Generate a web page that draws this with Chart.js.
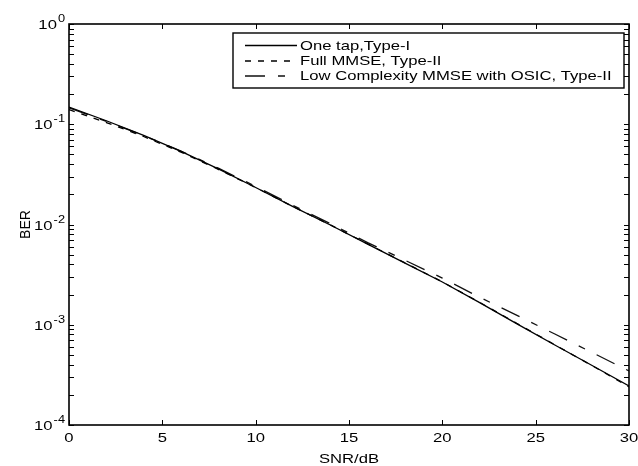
<!DOCTYPE html>
<html><head><meta charset="utf-8">
<style>html,body{margin:0;padding:0;background:#fff;}#wrap{width:638px;height:466px;}</style>
<script src="https://cdn.jsdelivr.net/npm/chart.js@4/dist/chart.umd.min.js"></script>
</head><body><div id="wrap"><canvas id="c" width="638" height="466"></canvas></div>
<script>
const snr = [0,2,4,6,8,10,12,14,16,18,20,22,24,26,28,30];
const berOneTap = [0.148,0.1084,0.0776,0.0537,0.0359,0.0234,0.0151,0.00989,0.00638,0.00412,0.00267,0.00166,0.00102,0.000631,0.000394,0.000245];
const berFullMmse = [0.140,0.104,0.0755,0.0527,0.0355,0.0234,0.0151,0.0099,0.0064,0.00414,0.00268,0.00167,0.00103,0.000635,0.000393,0.000240];
const berLowCompl = [0.146,0.107,0.077,0.054,0.0365,0.0240,0.0155,0.0102,0.0066,0.0044,0.00292,0.00188,0.00124,0.000813,0.000531,0.000346];
const seriesNames = ['One tap,Type-I','Full MMSE, Type-II','Low Complexity MMSE with OSIC, Type-II'];
const xTicks = [0,5,10,15,20,25,30];
const yExps = [0,-1,-2,-3,-4];
const xTitle = 'SNR/dB';
const yTitle = 'BER';

const FONT = '"Liberation Sans", Arial, sans-serif';
const SX = 1.28; // horizontal text stretch seen in reference

function pts(v){ return snr.map((x,i)=>({x:x,y:v[i]})); }

function stretchedText(ctx, txt, x, y, size, align, baseline){
  ctx.save();
  ctx.font = size + 'px ' + FONT;
  ctx.textBaseline = baseline || 'alphabetic';
  const w = ctx.measureText(txt).width * SX;
  let x0 = x;
  if (align === 'center') x0 = x - w/2;
  else if (align === 'right') x0 = x - w;
  ctx.translate(x0, y);
  ctx.scale(SX, 1);
  ctx.textAlign = 'left';
  ctx.fillText(txt, 0, 0);
  ctx.restore();
  return w;
}

const decor = {
  id: 'decor',
  afterDatasetsDraw(chart){
    const ctx = chart.ctx, a = chart.chartArea;
    const xs = chart.scales.x, ys = chart.scales.y;
    ctx.save();
    ctx.strokeStyle = '#000'; ctx.fillStyle = '#000';
    ctx.lineWidth = 1;
    ctx.beginPath();
    xTicks.forEach(t=>{
      const px = Math.round(xs.getPixelForValue(t)) + 0.5;
      ctx.moveTo(px, a.bottom); ctx.lineTo(px, a.bottom - 5);
      ctx.moveTo(px, a.top); ctx.lineTo(px, a.top + 5);
    });
    for (let e=-4; e<=0; e++){
      for (let m=1; m<=9; m++){
        if (e===0 && m>1) break;
        const v = m*Math.pow(10,e);
        const py = Math.round(ys.getPixelForValue(v)) + 0.5;
        const len = 5;
        ctx.moveTo(a.left, py); ctx.lineTo(a.left + len, py);
        ctx.moveTo(a.right, py); ctx.lineTo(a.right - len, py);
      }
    }
    ctx.stroke();
    ctx.lineWidth = 1.6;
    ctx.strokeRect(a.left, a.top, a.right - a.left, a.bottom - a.top);
    xTicks.forEach(t=>{
      stretchedText(ctx, String(t), xs.getPixelForValue(t), a.bottom + 17, 13, 'center');
    });
    yExps.forEach(e=>{
      const py = ys.getPixelForValue(Math.pow(10,e));
      const ex = String(e);
      ctx.save(); ctx.font = '10px ' + FONT;
      const ew = ctx.measureText(ex).width * SX; ctx.restore();
      const right = a.left - 4;
      stretchedText(ctx, ex, right - ew, py - 2, 10, 'left');
      stretchedText(ctx, '10', right - ew - 1, py + 5, 13, 'right');
    });
    stretchedText(ctx, xTitle, (a.left + a.right)/2, a.bottom + 38, 13, 'center');
    ctx.save();
    ctx.translate(30, (a.top + a.bottom)/2);
    ctx.rotate(-Math.PI/2);
    ctx.font = '14px ' + FONT;
    ctx.textAlign = 'center';
    ctx.fillText(yTitle, 0, 0);
    ctx.restore();
    const lx = 233, ly = 33, lw = 391, lh = 55;
    ctx.fillStyle = '#fff';
    ctx.fillRect(lx, ly, lw, lh);
    ctx.lineWidth = 1.4; ctx.strokeStyle = '#000';
    ctx.strokeRect(lx, ly, lw, lh);
    const rows = [45, 60.5, 75.5];
    chart.data.datasets.forEach((ds, i)=>{
      ctx.save();
      ctx.strokeStyle = ds.borderColor;
      ctx.lineWidth = ds.borderWidth;
      ctx.setLineDash(ds.borderDash || []);
      ctx.beginPath();
      ctx.moveTo(245, rows[i] + 0.5); ctx.lineTo(297, rows[i] + 0.5);
      ctx.stroke();
      ctx.restore();
      ctx.fillStyle = '#000';
      stretchedText(ctx, ds.label, 300, rows[i] + 4.5, 13, 'left');
    });
    ctx.restore();
  }
};

new Chart(document.getElementById('c'), {
  type: 'line',
  data: {
    datasets: [
      { label: seriesNames[0], data: pts(berOneTap), borderColor: '#000', borderWidth: 1.3, pointRadius: 0, tension: 0 },
      { label: seriesNames[1], data: pts(berFullMmse), borderColor: '#000', borderWidth: 1.3, borderDash: [6,7], pointRadius: 0, tension: 0 },
      { label: seriesNames[2], data: pts(berLowCompl), borderColor: '#111', borderWidth: 1.3, borderDash: [20,13,7,13], pointRadius: 0, tension: 0 }
    ]
  },
  options: {
    responsive: false, animation: false, devicePixelRatio: 1,
    layout: { padding: { left: 0, right: 9, top: 24, bottom: 0 } },
    plugins: { legend: { display: false }, tooltip: { enabled: false }, title: { display: false } },
    scales: {
      x: { type: 'linear', min: 0, max: 30,
           ticks: { display: false }, grid: { display: false }, border: { display: false },
           afterFit(s){ s.height = 41; } },
      y: { type: 'logarithmic', min: 1e-4, max: 1,
           ticks: { display: false }, grid: { display: false }, border: { display: false },
           afterFit(s){ s.width = 69; } }
    }
  },
  plugins: [decor]
});
</script></body></html>
